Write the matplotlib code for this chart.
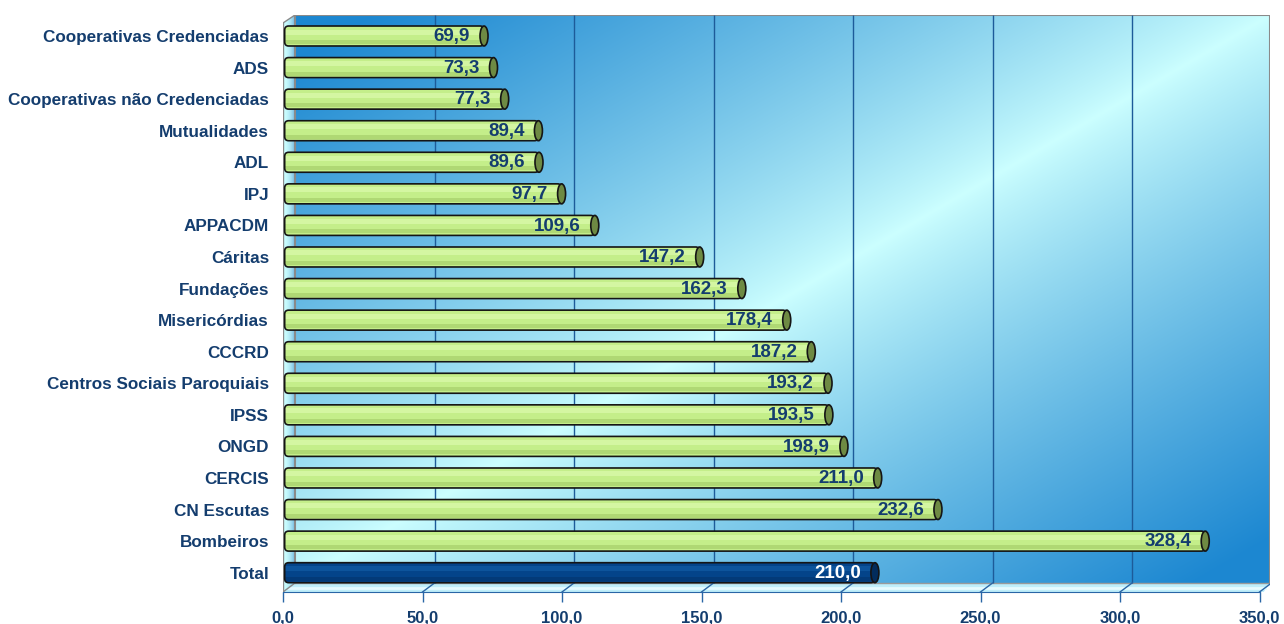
import numpy as np
import matplotlib.pyplot as plt
from matplotlib.patches import Polygon, Ellipse, FancyBboxPatch

categories = ['Cooperativas Credenciadas', 'ADS', 'Cooperativas não Credenciadas',
              'Mutualidades', 'ADL', 'IPJ', 'APPACDM', 'Cáritas', 'Fundações',
              'Misericórdias', 'CCCRD', 'Centros Sociais Paroquiais', 'IPSS', 'ONGD',
              'CERCIS', 'CN Escutas', 'Bombeiros', 'Total']
values = [69.9, 73.3, 77.3, 89.4, 89.6, 97.7, 109.6, 147.2, 162.3, 178.4, 187.2,
          193.2, 193.5, 198.9, 211.0, 232.6, 328.4, 210.0]
xticks = [0, 50, 100, 150, 200, 250, 300, 350]

plt.rcParams['font.family'] = ['Liberation Sans', 'DejaVu Sans']
plt.rcParams['font.weight'] = 'bold'

navy = '#143d6e'
W, H = 1284, 624
fig = plt.figure(figsize=(W / 100, H / 100), dpi=100)
ax = fig.add_axes([283 / W, 32 / H, 987 / W, 577 / H])

k = 2.79                  # pixels per unit
xmax = 987 / k
d = 12 / k                # depth offset of the back wall
rowpx = 31.57

def py(p):
    return (p - 36) / rowpx

ax.set_xlim(0, xmax)
ax.set_ylim(py(592), py(15))

# back wall, diagonal gradient blue -> cyan -> blue
blue = np.array([0.11, 0.53, 0.82])
cyan = np.array([0.80, 1.0, 1.0])
xn, yn = np.meshgrid(np.linspace(0, 1, 400), np.linspace(0, 1, 240))
t = np.clip(np.abs(xn + yn - 1.0) * 1.08, 0, 1) ** 0.85
img = cyan + (blue - cyan) * t[..., None]
ax.imshow(img, extent=(d, xmax, py(583), py(15)), aspect='auto', zorder=0,
          interpolation='bilinear')

# left wall
lw_poly = Polygon([(0, py(23)), (d, py(15)), (d, py(583)), (0, py(592))],
                  closed=True, facecolor='none', edgecolor='none')
ax.add_patch(lw_poly)
side = np.linspace(0, 1, 50)
side_img = np.array([cyan + (np.array([0.45, 0.72, 0.88]) - cyan) * s ** 2 for s in side])[None, :, :]
im2 = ax.imshow(side_img, extent=(0, d, py(592), py(15)), aspect='auto', zorder=0.5)
im2.set_clip_path(lw_poly)

# floor
floor = Polygon([(0, py(592)), (d, py(583)), (xmax, py(583)), (350 + 1.5, py(592))],
                closed=True, facecolor='#bfeefa', edgecolor='none', zorder=0.6)
ax.add_patch(floor)
ax.plot([d * 0.5, xmax - d * 0.4], [py(587.5), py(587.5)], color='#e6fbff', lw=2, zorder=0.7)

# wall edges
ax.plot([d, d, xmax, xmax], [py(583), py(15), py(15), py(583)], color='#8a8a8a', lw=1.5, zorder=1)
ax.plot([0, d], [py(23), py(15)], color='#8a8a8a', lw=1, zorder=1)
ax.plot([0, 0], [py(23), py(592)], color='#8a8a8a', lw=1, zorder=1)
ax.plot([d, xmax], [py(583), py(583)], color='#9a9a9a', lw=1, zorder=1)

# gridlines on back wall and on floor
grid_x = [v + d for v in xticks[1:-1]]
ax.vlines(grid_x, py(583), py(15), colors='#1d5b99', lw=1, zorder=1)
for v in xticks:
    c = '#8a8a8a' if v == 0 else '#2a66a6'
    ax.plot([v, v + d], [py(592), py(583)], color=c, lw=1, zorder=1)

# bars
ypos = np.arange(len(categories))
bh = 0.633
n = len(values)
face = ['#c4ee8a'] * (n - 1) + ['#04448a']
light = ['#d4f6a2'] * (n - 1) + ['#0d549c']
dark = ['#afd874'] * (n - 1) + ['#033a78']
capc = ['#6e8a43'] * (n - 1) + ['#022c5c']
left = 0.6
ends = np.array(values) + d / 2
widths = ends - left

b1 = ax.barh(ypos, widths, left=left, height=bh, color=face, edgecolor='none', zorder=3)
b2 = ax.barh(ypos - bh * 0.2, widths, left=left, height=bh * 0.25, color=light, edgecolor='none', zorder=3.2)
b3 = ax.barh(ypos + bh * 0.3, widths, left=left, height=bh * 0.2, color=dark, edgecolor='none', zorder=3.2)

r = 4 / k
asp = (1 / rowpx) / (1 / k)
for i, (v, e) in enumerate(zip(values, ends)):
    outline = FancyBboxPatch((left, i - bh / 2), e - left, bh,
                             boxstyle=f'round,pad=0,rounding_size={r}',
                             mutation_aspect=asp, fill=False,
                             edgecolor='#151515', lw=1.2, zorder=3.5)
    ax.add_patch(outline)
    for bars in (b1, b2, b3):
        bars[i].set_clip_path(outline)
    ax.add_patch(Ellipse((e, i), width=8 / k, height=bh, facecolor=capc[i],
                         edgecolor='#151515', lw=1.2, zorder=4))
    txt = f'{v:.1f}'.replace('.', ',')
    ax.text(e - 5, i + 0.02, txt, ha='right', va='center', fontsize=13.5,
            color='white' if i == n - 1 else navy, zorder=5)

# axes styling
for s in ['left', 'right', 'top']:
    ax.spines[s].set_visible(False)
ax.spines['bottom'].set_color('#2a66a6')
ax.spines['bottom'].set_bounds(0, 350)
ax.spines['bottom'].set_zorder(2)

ax.set_yticks(ypos)
ax.set_yticklabels(categories, fontsize=12.3, color=navy)
ax.tick_params(axis='y', length=0, pad=10)

ax.set_xticks(xticks)
ax.set_xticklabels([f'{v:.1f}'.replace('.', ',') for v in xticks], fontsize=12, color=navy)
ax.tick_params(axis='x', length=7.5, width=1, color='#2a66a6', pad=6)

fig.savefig('out.png', dpi=100)
